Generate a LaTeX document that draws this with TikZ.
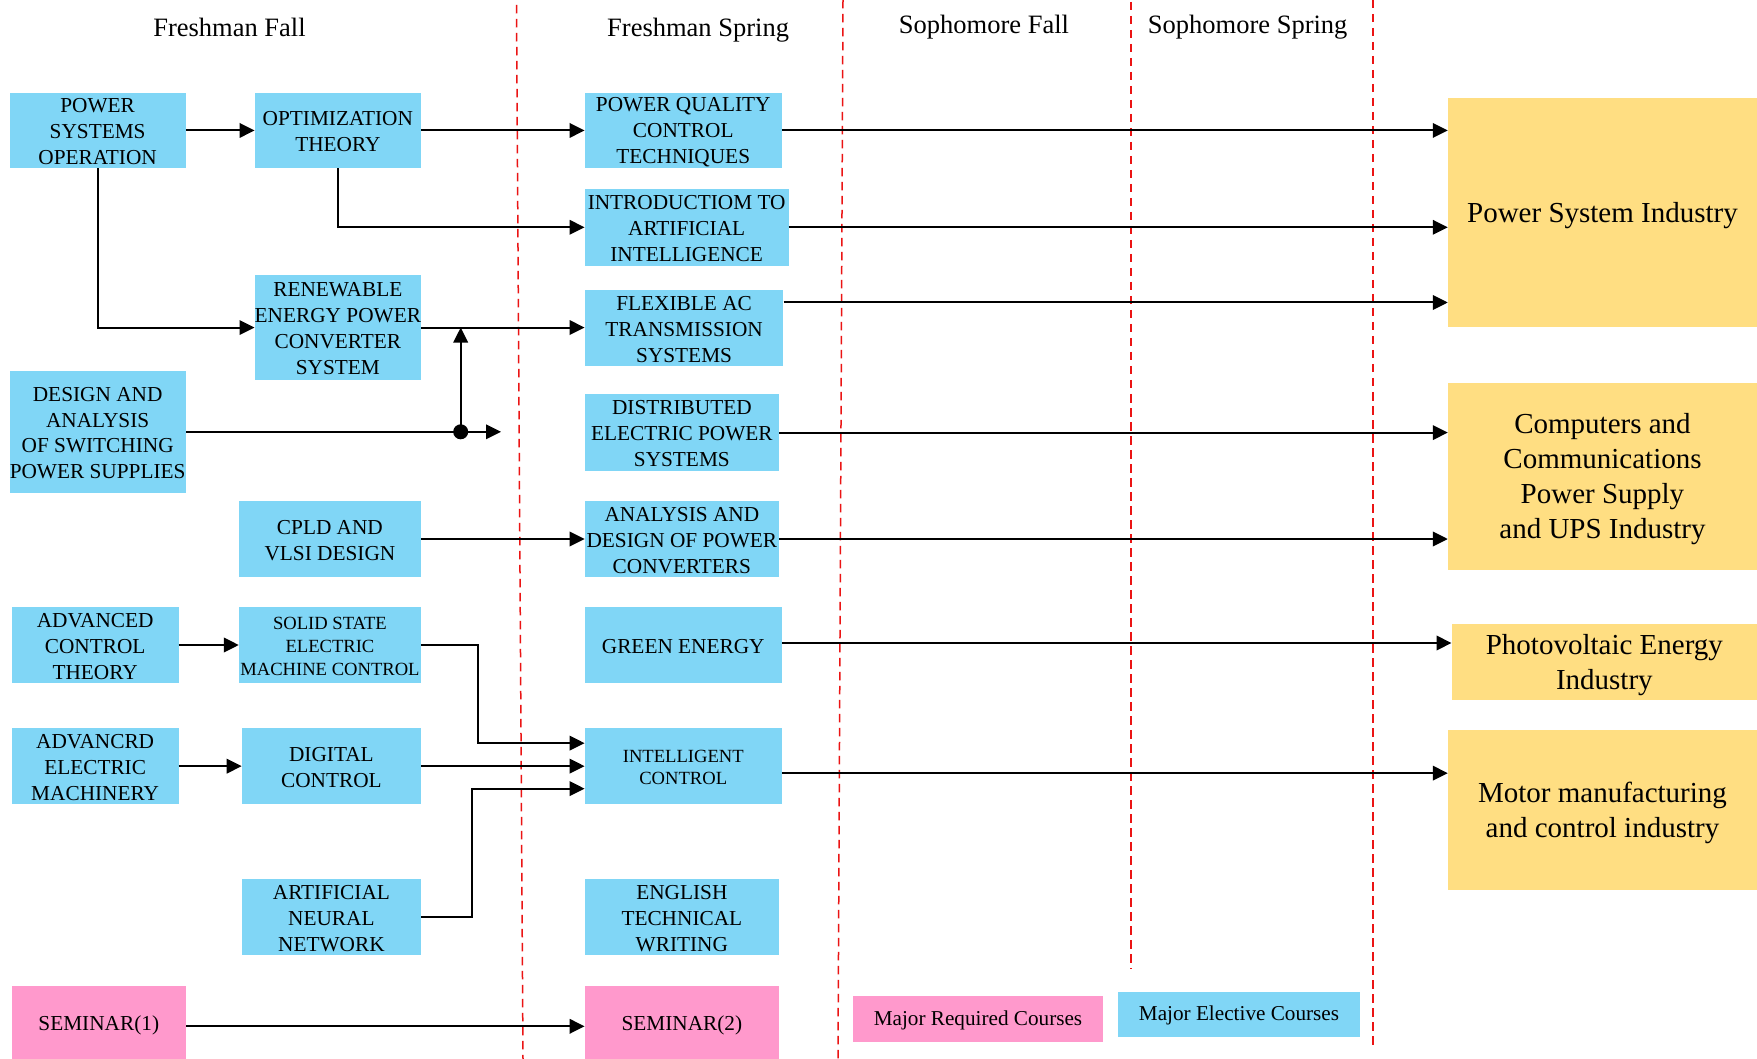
\documentclass[tikz,border=0pt]{standalone}
\usepackage{fontspec}
\setmainfont{Liberation Serif}
\usetikzlibrary{arrows.meta,calc}
\definecolor{cblue}{RGB}{128,214,246}
\definecolor{cyel}{RGB}{255,222,130}
\definecolor{cpink}{RGB}{255,153,204}
\definecolor{cred}{RGB}{235,20,20}
\newcommand\cstrut{\rule{0pt}{16.8pt}}
\newcommand\sstrut{\rule{0pt}{15pt}}
\newcommand\istrut{\rule{0pt}{26pt}}
\begin{document}
\begin{tikzpicture}[x=1pt,y=-1pt,
  course/.style={fill=cblue,inner sep=0pt,align=center,font=\fontsize{21.3}{25.9}\selectfont},
  smallcourse/.style={course,font=\fontsize{18.6}{22.6}\selectfont},
  required/.style={course,fill=cpink},
  industry/.style={fill=cyel,inner sep=0pt,align=center,font=\fontsize{29}{35}\selectfont},
  legendbox/.style={inner sep=0pt,align=center,font=\fontsize{21.2}{25}\selectfont},
  head/.style={anchor=base,font=\fontsize{26.5}{30}\selectfont},
  arr/.style={line width=2pt,-{Triangle[length=15pt,width=14.5pt]}},
  semline/.style={draw=cred,line width=1.5pt,dash pattern=on 8.5pt off 5.5pt}]
\fill[white] (0,0) rectangle (1757,1059);
\useasboundingbox (0,0) rectangle (1757,1059);

% semester separators
\draw[semline] (516.5,5) -- (523,1059);
\draw[semline] (843,0) -- (838,1059);
\draw[semline] (1131,2) -- (1131,969);
\draw[semline] (1373,0) -- (1373,1045);

% headings
\node[head] (hff) at (229.5,36.5) {Freshman Fall};
\node[head] (hfs) at (698.1,36.5) {Freshman Spring};
\node[head] (hsf) at (984,33.8) {Sophomore Fall};
\node[head] (hss) at (1247.7,33.8) {Sophomore Spring};

% courses
\node[course,minimum width=176.3,minimum height=75.7] (pso) at (97.65,130.45) {\cstrut POWER\\SYSTEMS\\OPERATION};
\node[course,minimum width=166.1,minimum height=75.7] (opt) at (337.85,130.45) {\cstrut OPTIMIZATION\\THEORY};
\node[course,minimum width=196.9,minimum height=75.7] (pq) at (683.25,130.45) {\cstrut POWER QUALITY\\CONTROL\\TECHNIQUES};
\node[course,minimum width=203.7,minimum height=77.4] (intro) at (686.65,227.3) {\cstrut INTRODUCTIOM TO\\ARTIFICIAL\\INTELLIGENCE};
\node[course,minimum width=166.1,minimum height=105.5] (renew) at (337.85,327.55) {\cstrut RENEWABLE\\ENERGY POWER\\CONVERTER\\SYSTEM};
\node[course,minimum width=198.6,minimum height=76.3] (flex) at (684.1,327.85) {\cstrut FLEXIBLE AC\\TRANSMISSION\\SYSTEMS};
\node[course,minimum width=176.3,minimum height=122] (design) at (97.65,431.8) {\cstrut DESIGN AND\\ANALYSIS\\OF SWITCHING\\POWER SUPPLIES};
\node[course,minimum width=194.1,minimum height=76.4] (dist) at (681.85,432.6) {\cstrut DISTRIBUTED\\ELECTRIC POWER\\SYSTEMS};
\node[course,minimum width=181.9,minimum height=76] (cpld) at (329.95,539) {\cstrut CPLD AND\\VLSI DESIGN};
\node[course,minimum width=194.1,minimum height=76] (analysis) at (681.85,539) {\cstrut ANALYSIS AND\\DESIGN OF POWER\\CONVERTERS};
\node[course,minimum width=166.7,minimum height=76] (adv) at (95.15,645) {\cstrut ADVANCED\\CONTROL\\THEORY};
\node[smallcourse,minimum width=181.9,minimum height=76] (solid) at (329.95,645) {\sstrut SOLID STATE\\ELECTRIC\\MACHINE CONTROL};
\node[course,minimum width=196.9,minimum height=76] (green) at (683.25,645) {\cstrut GREEN ENERGY};
\node[course,minimum width=166.7,minimum height=76.3] (advm) at (95.15,766.15) {\cstrut ADVANCRD\\ELECTRIC\\MACHINERY};
\node[course,minimum width=179,minimum height=76.3] (digital) at (331.4,766.15) {\cstrut DIGITAL\\CONTROL};
\node[smallcourse,minimum width=196.9,minimum height=76.3] (intel) at (683.25,766.15) {\sstrut INTELLIGENT\\CONTROL};
\node[course,minimum width=179,minimum height=76] (ann) at (331.4,917) {\cstrut ARTIFICIAL\\NEURAL\\NETWORK};
\node[course,minimum width=194.1,minimum height=76] (english) at (681.85,917) {\cstrut ENGLISH\\TECHNICAL\\WRITING};
\node[required,minimum width=174,minimum height=79] (sem1) at (98.8,1025.3) {SEMINAR(1)};
\node[required,minimum width=194.1,minimum height=79] (sem2) at (681.85,1025.3) {SEMINAR(2)};

% legend
\node[legendbox,fill=cpink,minimum width=250,minimum height=46] (leg1) at (978,1019) {\cstrut Major Required Courses};
\node[legendbox,fill=cblue,minimum width=242.4,minimum height=45.4] (leg2) at (1239,1014.3) {\cstrut Major Elective Courses};

% industries
\node[industry,minimum width=309,minimum height=229.8] (psi) at (1602.5,212.6) {\istrut Power System Industry};
\node[industry,minimum width=309,minimum height=187.4] (comp) at (1602.5,476.3) {\istrut Computers and\\Communications\\Power Supply\\and UPS Industry};
\node[industry,minimum width=305.3,minimum height=75.9] (pv) at (1604.35,661.75) {\istrut Photovoltaic Energy\\Industry};
\node[industry,minimum width=309,minimum height=160] (motor) at (1602.5,809.7) {\istrut Motor manufacturing\\and control industry};

% connectors, first year
\draw[arr] (pso) -- (opt);
\draw[arr] (opt) -- (pq);
\draw[arr] (opt.south) |- (intro.west);
\draw[arr] (pso.south) |- (renew.west);
\draw[arr] (renew.east) -- (renew.east -| flex.west);
\coordinate (jn) at (460.7,431.8);
\coordinate (dend) at (501,431.8);
\draw[arr] (design.east) -- (dend);
\draw[arr] (jn) -- (jn |- renew.east);
\fill (jn) circle (7.5);
\draw[arr] (cpld) -- (analysis);
\draw[arr] (adv) -- (solid);
\draw[arr] (solid.east) -- ++(57.2,0) |- ([yshift=23pt]intel.west);
\draw[arr] (advm) -- (digital);
\draw[arr] (digital) -- (intel);
\draw[arr] (ann.east) -- ++(51.1,0) |- ([yshift=-22.5pt]intel.west);
\draw[arr] ([yshift=-1pt]sem1.east) -- ([yshift=-1pt]sem1.east -| sem2.west);

% connectors to industries
\draw[arr] (pq.east) -- (pq.east -| psi.west);
\draw[arr] (intro.east) -- (intro.east -| psi.west);
\draw[arr] ([yshift=-13pt]flex.north east) -- ([yshift=-13pt]flex.north east -| psi.west);
\draw[arr] (dist.east) -- (dist.east -| comp.west);
\draw[arr] (analysis.east) -- (analysis.east -| comp.west);
\draw[arr] ([yshift=2pt]green.east) -- ([yshift=2pt]green.east -| pv.west);
\draw[arr] ([yshift=-7pt]intel.east) -- ([yshift=-7pt]intel.east -| motor.west);
\end{tikzpicture}
\end{document}
